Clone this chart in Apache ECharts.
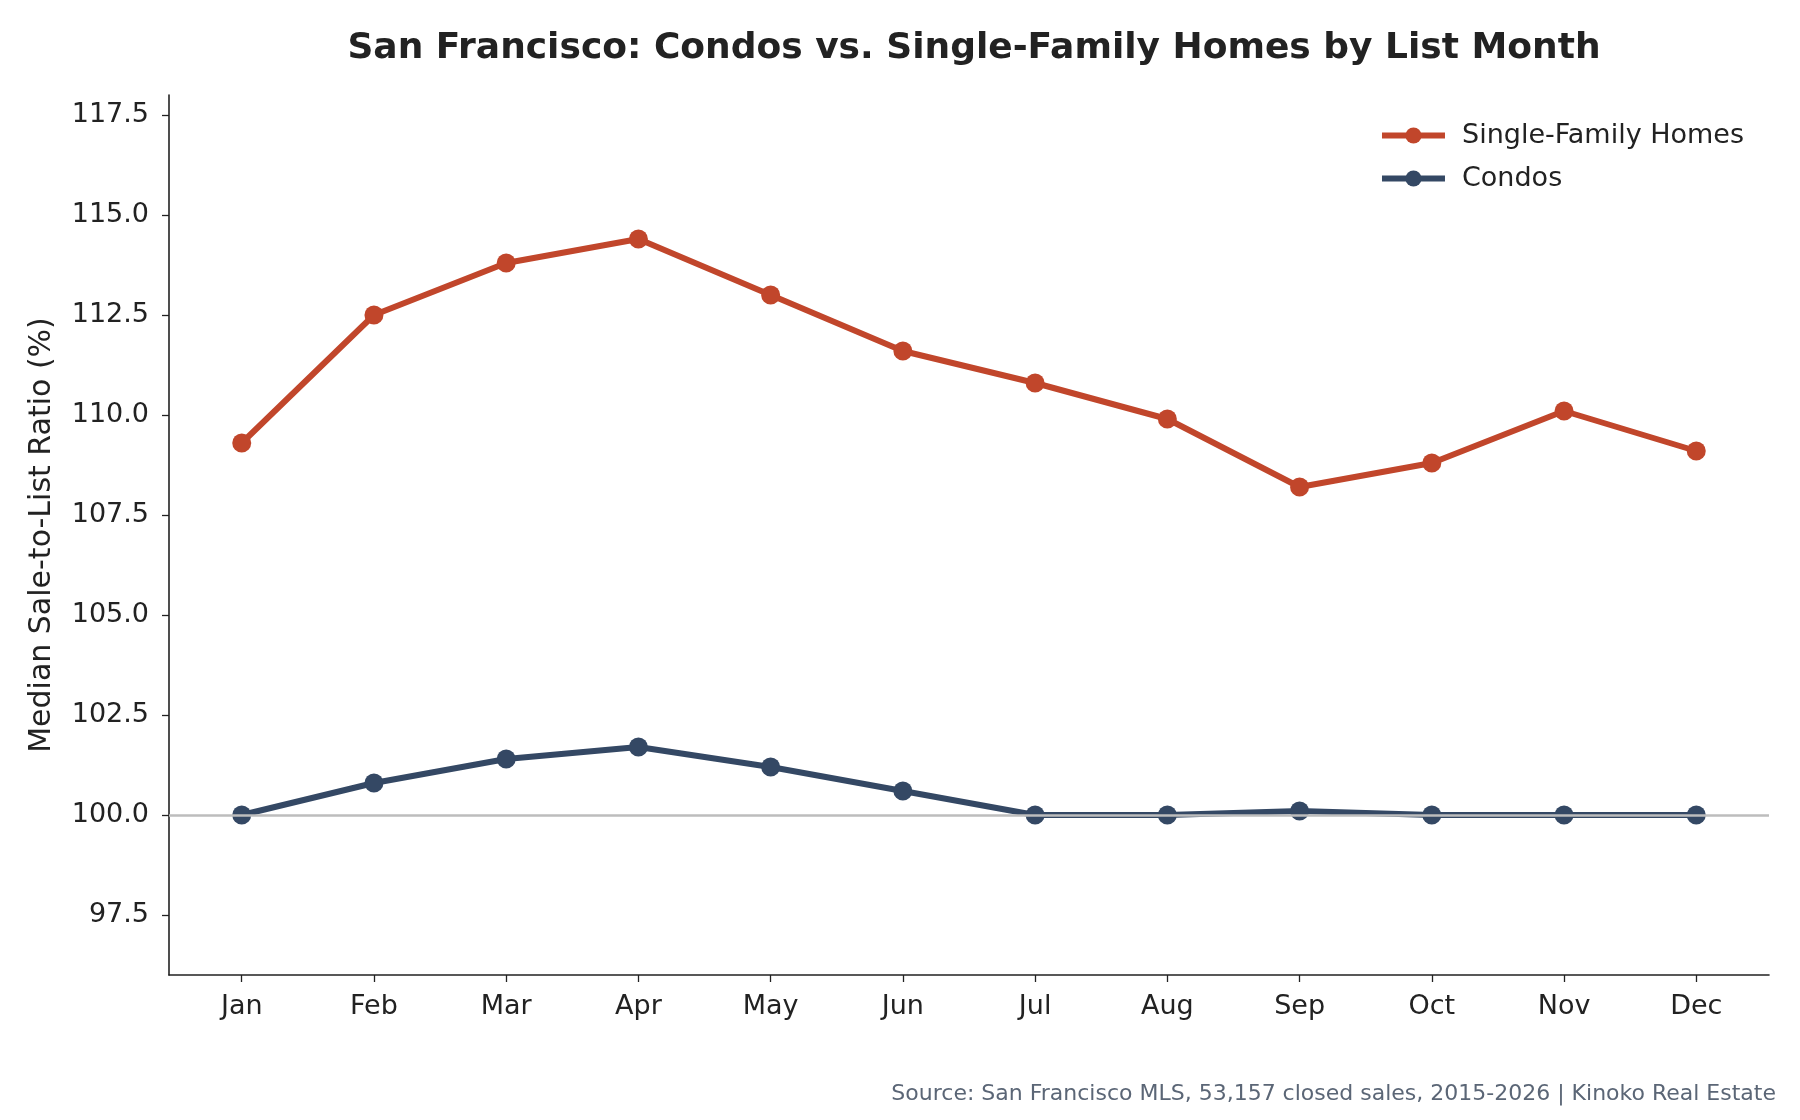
<!DOCTYPE html>
<html>
  <head>
	<meta charset="UTF-8">
	<title>SF Condos vs Single-Family</title>
	<script src="https://cdn.jsdelivr.net/npm/echarts@6/dist/echarts.min.js"></script>
	<style>
	  html, body { margin: 0; padding: 0; background: #fff; }
	  #chart { width: 1800px; height: 1120px; }
	</style>
  </head>
  <body>
	<div id="chart"></div>
	<script type="text/javascript">
	 // data
	 var months = ['Jan', 'Feb', 'Mar', 'Apr', 'May', 'Jun', 'Jul', 'Aug', 'Sep', 'Oct', 'Nov', 'Dec'];
	 var singleFamily = [109.3, 112.5, 113.8, 114.4, 113.0, 111.6, 110.8, 109.9, 108.2, 108.8, 110.1, 109.1];
	 var condos = [100.0, 100.8, 101.4, 101.7, 101.2, 100.6, 100.0, 100.0, 100.1, 100.0, 100.0, 100.0];
	 var yTicks = [97.5, 100, 102.5, 105, 107.5, 110, 112.5, 115, 117.5];
	 var xTicks = [0, 1, 2, 3, 4, 5, 6, 7, 8, 9, 10, 11];

	 var font = 'DejaVu Sans';
	 var chart = echarts.init(document.getElementById('chart'));

	 // x axis is numeric so the matplotlib-like side margins can be kept
	 function pairs(values) {
	   return values.map(function (v, i) { return [i, v]; });
	 }

	 chart.setOption({
	   backgroundColor: '#fff',
	   animation: false,
	   textStyle: { fontFamily: font },
	   title: [{
	     text: 'San Francisco: Condos vs. Single-Family Homes by List Month',
	     left: 969, top: 26, textAlign: 'center',
	     textStyle: { fontFamily: font, fontSize: 36, fontWeight: 'bold', color: '#222' }
	   }, {
	     text: 'Source: San Francisco MLS, 53,157 closed sales, 2015-2026 | Kinoko Real Estate',
	     right: 19, top: 1078,
	     textStyle: { fontFamily: font, fontSize: 22, fontWeight: 'normal', color: '#5b6676' }
	   }],
	   legend: {
	     orient: 'vertical',
	     right: 51, top: 117,
	     itemWidth: 63, itemHeight: 20, itemGap: 16,
	     data: ['Single-Family Homes', 'Condos'],
	     lineStyle: { width: 6 },
	     textStyle: { fontFamily: font, fontSize: 27, color: '#222', padding: [0, 0, 0, 12] }
	   },
	   grid: { left: 169, right: 31, top: 95, bottom: 145 },
	   xAxis: {
	     type: 'value',
	     min: -0.55, max: 11.55,
	     axisLine: { show: true, onZero: false, lineStyle: { color: '#222', width: 1.6 } },
	     axisTick: { show: true, customValues: xTicks, length: 7, lineStyle: { color: '#222', width: 1.3 } },
	     axisLabel: {
	       customValues: xTicks, margin: 18,
	       fontFamily: font, fontSize: 27, color: '#222',
	       formatter: function (v) { return months[Math.round(v)]; }
	     },
	     splitLine: { show: false }
	   },
	   yAxis: {
	     type: 'value',
	     min: 96, max: 118,
	     name: 'Median Sale-to-List Ratio (%)',
	     nameLocation: 'middle', nameGap: 112, nameRotate: 90,
	     nameTextStyle: { fontFamily: font, fontSize: 30, color: '#222' },
	     axisLine: { show: true, onZero: false, lineStyle: { color: '#222', width: 1.6 } },
	     axisTick: { show: true, customValues: yTicks, length: 7, lineStyle: { color: '#222', width: 1.3 } },
	     axisLabel: {
	       customValues: yTicks, margin: 20,
	       fontFamily: font, fontSize: 27, color: '#222',
	       formatter: function (v) { return v.toFixed(1); }
	     },
	     splitLine: { show: false }
	   },
	   series: [
	     {
	       name: 'ref100',
	       type: 'line',
	       data: [],
	       z: 1,
	       silent: true,
	       markLine: {
	         silent: true, symbol: 'none',
	         label: { show: false },
	         lineStyle: { color: '#bdbdbd', width: 2.5, type: 'solid' },
	         data: [{ yAxis: 100 }]
	       }
	     },
	     {
	       name: 'Single-Family Homes',
	       type: 'line',
	       data: pairs(singleFamily),
	       z: 3,
	       symbol: 'circle', symbolSize: 19,
	       lineStyle: { color: '#c1462b', width: 6 },
	       itemStyle: { color: '#c1462b' }
	     },
	     {
	       name: 'Condos',
	       type: 'line',
	       data: pairs(condos),
	       z: 3,
	       symbol: 'circle', symbolSize: 19,
	       lineStyle: { color: '#344864', width: 6 },
	       itemStyle: { color: '#344864' }
	     }
	   ]
	 });
	</script>
  </body>
</html>
